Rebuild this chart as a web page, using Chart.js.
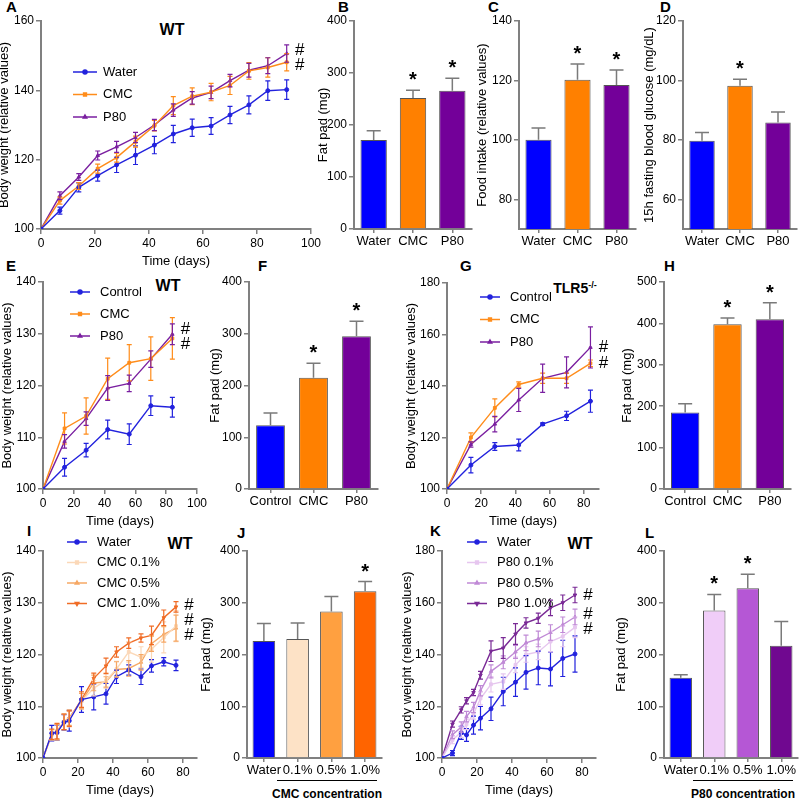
<!DOCTYPE html>
<html>
<head>
<meta charset="utf-8">
<script src="https://cdn.jsdelivr.net/npm/chart.js@4.4.1/dist/chart.umd.min.js"></script>
<style>
  body { margin: 0; background: #fff; }
  #fig { position: relative; width: 800px; height: 799px; overflow: hidden; font-family: "Liberation Sans", Arial, Helvetica, sans-serif; color: #000; }
  #fig canvas { position: absolute; }
  .pl { position: absolute; font-weight: bold; font-size: 15px; line-height: 15px; }
  .tt { position: absolute; font-weight: bold; font-size: 16px; transform: translate(-50%, -50%); white-space: nowrap; }
  .tt.sm { font-size: 14px; }
  .tt sup { font-size: 9px; }
  .conc { position: absolute; font-weight: bold; font-size: 12px; transform: translate(-50%, -50%); white-space: nowrap; }
  .uline { position: absolute; height: 0; border-top: 1.5px solid #000; }
</style>
</head>
<body>
<div id="fig">
  <div class="pl" style="left:6px;top:-1px">A</div>
  <div class="pl" style="left:338px;top:-1px">B</div>
  <div class="pl" style="left:488px;top:-1px">C</div>
  <div class="pl" style="left:660px;top:-1px">D</div>
  <div class="pl" style="left:6px;top:258px">E</div>
  <div class="pl" style="left:258px;top:258px">F</div>
  <div class="pl" style="left:460px;top:258px">G</div>
  <div class="pl" style="left:664px;top:258px">H</div>
  <div class="pl" style="left:27px;top:523px">I</div>
  <div class="pl" style="left:237px;top:525px">J</div>
  <div class="pl" style="left:430px;top:523px">K</div>
  <div class="pl" style="left:645px;top:525px">L</div>

  <div class="tt" style="left:172px;top:30px">WT</div>
  <div class="tt" style="left:168px;top:286px">WT</div>
  <div class="tt sm" style="left:575px;top:288px">TLR5<sup>-/-</sup></div>
  <div class="tt" style="left:180px;top:544px">WT</div>
  <div class="tt" style="left:580px;top:544px">WT</div>

  <div class="uline" style="left:277px;top:780px;width:100px"></div>
  <div class="conc" style="left:327px;top:794px">CMC concentration</div>
  <div class="uline" style="left:693px;top:780px;width:100px"></div>
  <div class="conc" style="left:743px;top:794px">P80 concentration</div>
</div>
<script>
// ---- A: body weight, WT (days 0-91)
const daysA = [0, 7, 14, 21, 28, 35, 42, 49, 56, 63, 70, 77, 84, 91];
const waterA = [100, 105.3, 112.0, 115.4, 118.5, 121.3, 124.2, 127.4, 129.2, 129.7, 132.9, 135.8, 139.9, 140.2];
const waterA_err = [0, 1.0, 1.3, 1.6, 2.2, 2.7, 2.5, 2.5, 2.5, 2.4, 2.5, 2.6, 2.8, 2.8];
const cmcA = [100, 108.2, 112.4, 117.4, 120.6, 125.2, 129.8, 135.6, 138.3, 139.5, 141.4, 145.6, 146.6, 148.1];
const cmcA_err = [0, 1.0, 1.0, 1.3, 1.3, 1.6, 1.5, 2.6, 2.4, 2.5, 2.6, 2.4, 2.8, 2.5];
const p80A = [100, 109.6, 115.0, 121.2, 123.7, 126.4, 130.0, 134.3, 137.8, 139.4, 142.8, 145.8, 147.1, 150.6];
const p80A_err = [0, 1.1, 1.0, 1.3, 1.6, 1.5, 1.6, 1.8, 1.8, 1.8, 1.8, 2.0, 2.3, 2.5];

// ---- B, C, D: bars
const groups3 = ['Water', 'CMC', 'P80'];
const fatB = [171, 252, 266];
const fatB_err = [18, 15, 24];
const starsB = [false, true, true];
const foodC = [100, 120.2, 118.5];
const foodC_err = [4, 5.3, 5];
const starsC = [false, true, true];
const glucD = [79.7, 98.2, 85.8];
const glucD_err = [2.8, 2.2, 3.6];
const starsD = [false, true, false];

// ---- E: WT, G: TLR5-/- (days 0-84)
const daysEG = [0, 14, 28, 42, 56, 70, 84];
const ctrlE = [100, 104.2, 107.5, 111.5, 110.6, 116.1, 115.8];
const ctrlE_err = [0, 1.7, 1.3, 1.8, 2.0, 1.9, 1.9];
const cmcE = [100, 111.7, 114.1, 121.3, 124.4, 125.2, 129.1];
const cmcE_err = [0, 3.0, 3.5, 4.0, 3.5, 4.2, 4.0];
const p80E = [100, 109.2, 113.6, 119.5, 120.4, 125.1, 129.9];
const p80E_err = [0, 1.3, 1.3, 2.4, 1.6, 1.6, 2.0];

const ctrlG = [100, 109.3, 116.5, 117.1, 125.2, 128.4, 134.1];
const ctrlG_err = [0, 3.0, 1.5, 2.3, 0.5, 1.8, 4.3];
const cmcG = [100, 120.0, 131.5, 140.6, 143.0, 143.0, 148.8];
const cmcG_err = [0, 1.8, 3.5, 1.0, 2.0, 2.0, 1.3];
const p80G = [100, 117.3, 125.2, 134.6, 143.0, 145.3, 155.0];
const p80G_err = [0, 1.0, 3.0, 4.5, 5.5, 6.0, 8.0];

// ---- F, H: bars
const groupsCtrl = ['Control', 'CMC', 'P80'];
const fatF = [123, 215, 295];
const fatF_err = [24, 28, 29];
const starsF = [false, true, true];
const fatH = [185, 398, 410];
const fatH_err = [21, 15, 40];
const starsH = [false, true, true];

// ---- I: CMC dose
const daysI = [0, 5, 8, 12, 15, 22, 29, 36, 42, 49, 56, 62, 69, 76];
const waterI = [100, 104.8, 104.9, 106.9, 107.2, 111.3, 111.8, 112.4, 115.7, 117.0, 115.7, 117.8, 118.6, 117.9];
const waterI_err = [0, 1.5, 1.5, 1.5, 2.0, 2.5, 2.5, 2.0, 1.3, 1.0, 1.5, 1.2, 0.8, 1.0];
const cmc01I = [100, 104.5, 105.0, 107.0, 107.5, 111.0, 113.5, 115.0, 117.2, 120.5, 119.5, 121.0, 123.3, 125.5];
const cmc01I_err = [0, 1.0, 1.5, 1.5, 1.5, 1.5, 1.5, 1.5, 1.5, 2.0, 2.0, 2.5, 3.0, 3.0];
const cmc05I = [100, 104.5, 105.0, 107.0, 107.8, 111.0, 114.5, 114.7, 117.1, 117.3, 118.5, 122.1, 123.9, 125.1];
const cmc05I_err = [0, 1.0, 1.5, 1.5, 1.5, 1.5, 1.5, 1.0, 1.5, 1.5, 1.5, 1.5, 1.5, 2.5];
const cmc1I = [100, 104.6, 105.2, 107.0, 107.6, 111.3, 115.4, 117.8, 120.5, 122.2, 123.2, 123.7, 127.1, 129.2];
const cmc1I_err = [0, 1.0, 1.5, 1.5, 1.5, 1.5, 1.0, 1.5, 1.0, 1.0, 0.8, 1.8, 1.5, 1.0];

// ---- J: bars
const groupsJ = ['Water', '0.1%', '0.5%', '1.0%'];
const fatJ = [226, 230, 283, 322];
const fatJ_err = [34, 31, 29, 19];
const starsJ = [false, false, false, true];

// ---- K: P80 dose
const daysK = [0, 6, 11, 14, 18, 22, 28, 35, 42, 48, 55, 62, 69, 76];
const waterK = [100, 101.9, 109.7, 108.9, 112.7, 115.4, 119.0, 125.7, 129.3, 133.1, 134.8, 134.4, 138.5, 140.2];
const waterK_err = [0, 1.0, 2.5, 2.5, 3.5, 4.5, 4.5, 5.5, 5.5, 6.5, 6.5, 6.5, 7.0, 7.0];
const p8001K = [100, 107, 110, 113, 117, 123, 128.5, 129.5, 136, 140, 141, 145, 147, 150.5];
const p8001K_err = [0, 1.5, 2, 2, 2, 2.5, 3, 3, 3, 3, 3, 4, 4, 4];
const p8005K = [100, 109, 112, 116, 119.5, 126, 133.5, 137, 141, 144.5, 146, 148.5, 151.5, 154.5];
const p8005K_err = [0, 1.5, 2, 2, 2, 2, 2.5, 2.5, 2.5, 3, 3, 3, 3, 3];
const p801K = [100, 113.1, 118.6, 122.1, 125.3, 132.0, 141.3, 142.5, 147.9, 152.2, 154.0, 158.0, 160.0, 163.0];
const p801K_err = [0, 1.2, 1.2, 1.2, 1.2, 1.5, 4, 4, 4, 2, 2, 3, 3, 3];

// ---- L: bars
const groupsL = ['Water', '0.1%', '0.5%', '1.0%'];
const fatL = [155, 285, 328, 217];
const fatL_err = [6, 31, 27, 47];
const starsL = [false, true, true, false];

Chart.defaults.font.family = "'Liberation Sans', Arial, Helvetica, sans-serif";
Chart.defaults.color = '#000';
Chart.defaults.animation = false;

const AXIS = '#808080';
const fig = document.getElementById('fig');

// error bars, stars, hashes and the in-plot legend
const extras = {
  id: 'extras',
  afterDatasetsDraw(chart, args, opts) {
    const ctx = chart.ctx;
    const ys = chart.scales.y;
    chart.data.datasets.forEach((ds, i) => {
      if (!ds.err) return;
      const meta = chart.getDatasetMeta(i);
      ctx.save();
      ctx.strokeStyle = ds.errColor || ds.borderColor;
      ctx.lineWidth = ds.errWidth || 1.2;
      meta.data.forEach((el, j) => {
        const e = ds.err[j];
        if (!e) return;
        const v = typeof ds.data[j] === 'object' ? ds.data[j].y : ds.data[j];
        const top = ys.getPixelForValue(v + e);
        const bot = ds.bothWays ? ys.getPixelForValue(v - e) : el.y;
        const c = ds.cap || 3;
        ctx.beginPath();
        ctx.moveTo(el.x, top); ctx.lineTo(el.x, bot);
        ctx.moveTo(el.x - c, top); ctx.lineTo(el.x + c, top);
        if (ds.bothWays) { ctx.moveTo(el.x - c, bot); ctx.lineTo(el.x + c, bot); }
        ctx.stroke();
        if (opts.stars && opts.stars[j]) {
          ctx.fillStyle = '#000';
          ctx.font = 'bold 20px ' + Chart.defaults.font.family;
          ctx.textAlign = 'center';
          ctx.textBaseline = 'alphabetic';
          ctx.fillText('*', el.x, top - 4);
        }
      });
      ctx.restore();
    });

    if (opts.hashes) {
      const hs = opts.hashes.map(i => {
        const m = chart.getDatasetMeta(i);
        const el = m.data[m.data.length - 1];
        return { x: el.x, y: el.y };
      }).sort((a, b) => a.y - b.y);
      for (let k = 0; k < 30; k++) {
        for (let j = 1; j < hs.length; j++) {
          const d = hs[j].y - hs[j - 1].y;
          if (d < 15) { const s = (15 - d) / 2; hs[j].y += s; hs[j - 1].y -= s; }
        }
      }
      const xh = Math.max(...hs.map(h => h.x)) + 13;
      ctx.save();
      ctx.fillStyle = '#000';
      ctx.font = '17px ' + Chart.defaults.font.family;
      ctx.textAlign = 'center';
      ctx.textBaseline = 'middle';
      hs.forEach(h => ctx.fillText('#', xh, h.y));
      ctx.restore();
    }

    if (opts.legend) {
      const L = opts.legend;
      ctx.save();
      ctx.font = '13px ' + Chart.defaults.font.family;
      ctx.textBaseline = 'middle';
      ctx.textAlign = 'left';
      chart.data.datasets.forEach((ds, i) => {
        const y = L.y0 + i * L.dy - opts.oy;
        const x1 = L.x1 - opts.ox, x2 = L.x2 - opts.ox;
        ctx.strokeStyle = ds.borderColor;
        ctx.fillStyle = ds.borderColor;
        ctx.lineWidth = 1.5;
        ctx.beginPath(); ctx.moveTo(x1, y); ctx.lineTo(x2, y); ctx.stroke();
        Chart.helpers.drawPoint(ctx, { pointStyle: ds.pointStyle, radius: 2, rotation: ds.pointRotation || 0, borderWidth: 1 }, (x1 + x2) / 2, y);
        ctx.fillStyle = '#000';
        ctx.fillText(ds.label, L.tx - opts.ox, y);
      });
      ctx.restore();
    }
  }
};

function makeCanvas(left, top, w, h) {
  const c = document.createElement('canvas');
  c.width = w; c.height = h;
  c.style.left = left + 'px'; c.style.top = top + 'px';
  c.style.width = w + 'px'; c.style.height = h + 'px';
  fig.appendChild(c);
  return c;
}

function yAxis(min, max, ticks, title, width) {
  return {
    min: min, max: max,
    afterBuildTicks: a => { a.ticks = ticks.map(v => ({ value: v })); },
    afterFit: s => { s.width = width; },
    border: { color: AXIS, width: 2 },
    grid: { drawOnChartArea: false, color: AXIS, tickLength: 5, lineWidth: 1.5 },
    ticks: { padding: 2, font: { size: 12 } },
    title: { display: true, text: title, padding: 0, font: { size: 13 } }
  };
}

function linePanel(p) {
  const [L, T, R, B] = p.box;
  const padT = p.padT || 14, padR = 30, xH = 40;
  const top = T - padT;
  const cv = makeCanvas(p.left, top, R - p.left + padR, B - T + padT + xH);
  new Chart(cv, {
    type: 'line',
    data: {
      datasets: p.series.map(s => ({
        label: s.label,
        data: s.x.map((d, i) => ({ x: d, y: s.y[i] })),
        err: s.err, bothWays: true, cap: 2.5, errWidth: 1.2,
        borderColor: s.color, backgroundColor: s.color,
        pointBackgroundColor: s.color, pointBorderColor: s.color,
        pointStyle: s.marker, pointRotation: s.rot || 0,
        pointRadius: 2, pointBorderWidth: 1, borderWidth: 1.4, tension: 0
      }))
    },
    options: {
      responsive: false,
      layout: { padding: { top: padT, right: padR, left: 0, bottom: 0 } },
      scales: {
        x: {
          type: 'linear', min: 0, max: p.xMax,
          afterBuildTicks: a => { a.ticks = p.xTicks.map(v => ({ value: v })); },
          afterFit: s => { s.height = xH; },
          border: { color: AXIS, width: 2 },
          grid: { drawOnChartArea: false, color: AXIS, tickLength: 5, lineWidth: 1.5 },
          ticks: { padding: 2, font: { size: 12 }, autoSkip: false, maxRotation: 0 },
          title: { display: true, text: 'Time (days)', padding: 0, font: { size: 13 } }
        },
        y: yAxis(p.yMin, p.yMax, p.yTicks, 'Body weight (relative values)', L - p.left)
      },
      plugins: {
        legend: { display: false }, tooltip: { enabled: false },
        extras: { ox: p.left, oy: top, legend: p.legend, hashes: p.hashes }
      }
    },
    plugins: [extras]
  });
}

function barPanel(p) {
  const [L, T, R, B] = p.box;
  const padT = 14, padR = 4, xH = 22;
  const top = T - padT;
  const cv = makeCanvas(p.left, top, R - p.left + padR, B - T + padT + xH);
  new Chart(cv, {
    type: 'bar',
    data: {
      labels: p.labels,
      datasets: [{
        data: p.values, err: p.err, errColor: '#7a7a7a', errWidth: 1.5, cap: 7,
        backgroundColor: p.colors, borderColor: '#555', borderWidth: 1,
        barPercentage: 0.67, categoryPercentage: 1
      }]
    },
    options: {
      responsive: false,
      layout: { padding: { top: padT, right: padR, left: 0, bottom: 0 } },
      scales: {
        x: {
          offset: true,
          afterFit: s => { s.height = xH; },
          border: { color: AXIS, width: 2 },
          grid: { offset: false, drawOnChartArea: false, color: AXIS, tickLength: 4, lineWidth: 1.5 },
          ticks: { padding: 1, font: { size: 13 }, autoSkip: false, maxRotation: 0, minRotation: 0 }
        },
        y: yAxis(p.yMin, p.yMax, p.yTicks, p.yTitle, L - p.left)
      },
      plugins: {
        legend: { display: false }, tooltip: { enabled: false },
        extras: { ox: p.left, oy: top, stars: p.stars }
      }
    },
    plugins: [extras]
  });
}

const BLUE = '#2222dd', ORANGE = '#ff8c1a', PURPLE = '#7a1fa0';
const barCols3 = ['#0000ff', '#ff8000', '#730099'];

// A
linePanel({
  box: [41, 21, 311, 229], left: -3, xMax: 100, xTicks: [0, 20, 40, 60, 80, 100],
  yMin: 100, yMax: 160, yTicks: [100, 120, 140, 160],
  series: [
    { label: 'Water', x: daysA, y: waterA, err: waterA_err, color: BLUE, marker: 'circle' },
    { label: 'CMC', x: daysA, y: cmcA, err: cmcA_err, color: ORANGE, marker: 'rect' },
    { label: 'P80', x: daysA, y: p80A, err: p80A_err, color: PURPLE, marker: 'triangle' }
  ],
  legend: { x1: 73, x2: 97, tx: 103, y0: 72, dy: 22.5 },
  hashes: [1, 2]
});
barPanel({ box: [354, 21, 472, 229], left: 316, labels: groups3, values: fatB, err: fatB_err, stars: starsB,
  colors: barCols3, yMin: 0, yMax: 400, yTicks: [0, 100, 200, 300, 400], yTitle: 'Fat pad (mg)' });
barPanel({ box: [519, 21, 636, 229], left: 475, labels: groups3, values: foodC, err: foodC_err, stars: starsC,
  colors: barCols3, yMin: 70, yMax: 140, yTicks: [80, 100, 120, 140], yTitle: 'Food intake (relative values)' });
barPanel({ box: [683, 21, 797, 229], left: 642, labels: groups3, values: glucD, err: glucD_err, stars: starsD,
  colors: barCols3, yMin: 50, yMax: 120, yTicks: [60, 80, 100, 120], yTitle: '15h fasting blood glucose (mg/dL)' });

// E
linePanel({
  box: [43, 282, 197, 489], left: 0, xMax: 100, xTicks: [0, 20, 40, 60, 80, 100],
  yMin: 100, yMax: 140, yTicks: [100, 110, 120, 130, 140],
  series: [
    { label: 'Control', x: daysEG, y: ctrlE, err: ctrlE_err, color: BLUE, marker: 'circle' },
    { label: 'CMC', x: daysEG, y: cmcE, err: cmcE_err, color: ORANGE, marker: 'rect' },
    { label: 'P80', x: daysEG, y: p80E, err: p80E_err, color: PURPLE, marker: 'triangle' }
  ],
  legend: { x1: 70, x2: 90, tx: 100, y0: 292, dy: 22 },
  hashes: [1, 2]
});
barPanel({ box: [249, 282, 378, 489], left: 208, labels: groupsCtrl, values: fatF, err: fatF_err, stars: starsF,
  colors: barCols3, yMin: 0, yMax: 400, yTicks: [0, 100, 200, 300, 400], yTitle: 'Fat pad (mg)' });

// G
linePanel({
  box: [447, 283, 599, 489], left: 404, xMax: 89, xTicks: [0, 20, 40, 60, 80],
  yMin: 100, yMax: 180, yTicks: [100, 120, 140, 160, 180],
  series: [
    { label: 'Control', x: daysEG, y: ctrlG, err: ctrlG_err, color: BLUE, marker: 'circle' },
    { label: 'CMC', x: daysEG, y: cmcG, err: cmcG_err, color: ORANGE, marker: 'rect' },
    { label: 'P80', x: daysEG, y: p80G, err: p80G_err, color: PURPLE, marker: 'triangle' }
  ],
  legend: { x1: 480, x2: 500, tx: 510, y0: 297, dy: 22.5 },
  hashes: [1, 2]
});
barPanel({ box: [664, 282, 791, 489], left: 620, labels: groupsCtrl, values: fatH, err: fatH_err, stars: starsH,
  colors: barCols3, yMin: 0, yMax: 500, yTicks: [0, 100, 200, 300, 400, 500], yTitle: 'Fat pad (mg)' });

// I
linePanel({
  box: [43, 551, 197, 758], left: 0, padT: 22, xMax: 88, xTicks: [0, 20, 40, 60, 80],
  yMin: 100, yMax: 140, yTicks: [100, 110, 120, 130, 140],
  series: [
    { label: 'Water', x: daysI, y: waterI, err: waterI_err, color: BLUE, marker: 'circle' },
    { label: 'CMC 0.1%', x: daysI, y: cmc01I, err: cmc01I_err, color: '#fbd8b8', marker: 'rect' },
    { label: 'CMC 0.5%', x: daysI, y: cmc05I, err: cmc05I_err, color: '#f6a865', marker: 'triangle' },
    { label: 'CMC 1.0%', x: daysI, y: cmc1I, err: cmc1I_err, color: '#f06c26', marker: 'triangle', rot: 180 }
  ],
  legend: { x1: 67, x2: 87, tx: 97, y0: 542, dy: 20.5 },
  hashes: [1, 2, 3]
});
barPanel({ box: [247, 551, 382, 758], left: 199, labels: groupsJ, values: fatJ, err: fatJ_err, stars: starsJ,
  colors: ['#0000ff', '#fde2c6', '#ffa040', '#ff6400'], yMin: 0, yMax: 400, yTicks: [0, 100, 200, 300, 400], yTitle: 'Fat pad (mg)' });

// K
linePanel({
  box: [442, 551, 596, 758], left: 400, padT: 22, xMax: 88, xTicks: [0, 20, 40, 60, 80],
  yMin: 100, yMax: 180, yTicks: [100, 120, 140, 160, 180],
  series: [
    { label: 'Water', x: daysK, y: waterK, err: waterK_err, color: BLUE, marker: 'circle' },
    { label: 'P80 0.1%', x: daysK, y: p8001K, err: p8001K_err, color: '#e6c6ef', marker: 'rect' },
    { label: 'P80 0.5%', x: daysK, y: p8005K, err: p8005K_err, color: '#c08ad6', marker: 'triangle' },
    { label: 'P80 1.0%', x: daysK, y: p801K, err: p801K_err, color: '#7a2a96', marker: 'triangle', rot: 180 }
  ],
  legend: { x1: 467, x2: 487, tx: 497, y0: 542, dy: 20.5 },
  hashes: [1, 2, 3]
});
barPanel({ box: [664, 551, 798, 758], left: 614, labels: groupsL, values: fatL, err: fatL_err, stars: starsL,
  colors: ['#0000ff', '#f0cdf8', '#b557d5', '#700890'], yMin: 0, yMax: 400, yTicks: [0, 100, 200, 300, 400], yTitle: 'Fat pad (mg)' });
</script>
</body>
</html>
